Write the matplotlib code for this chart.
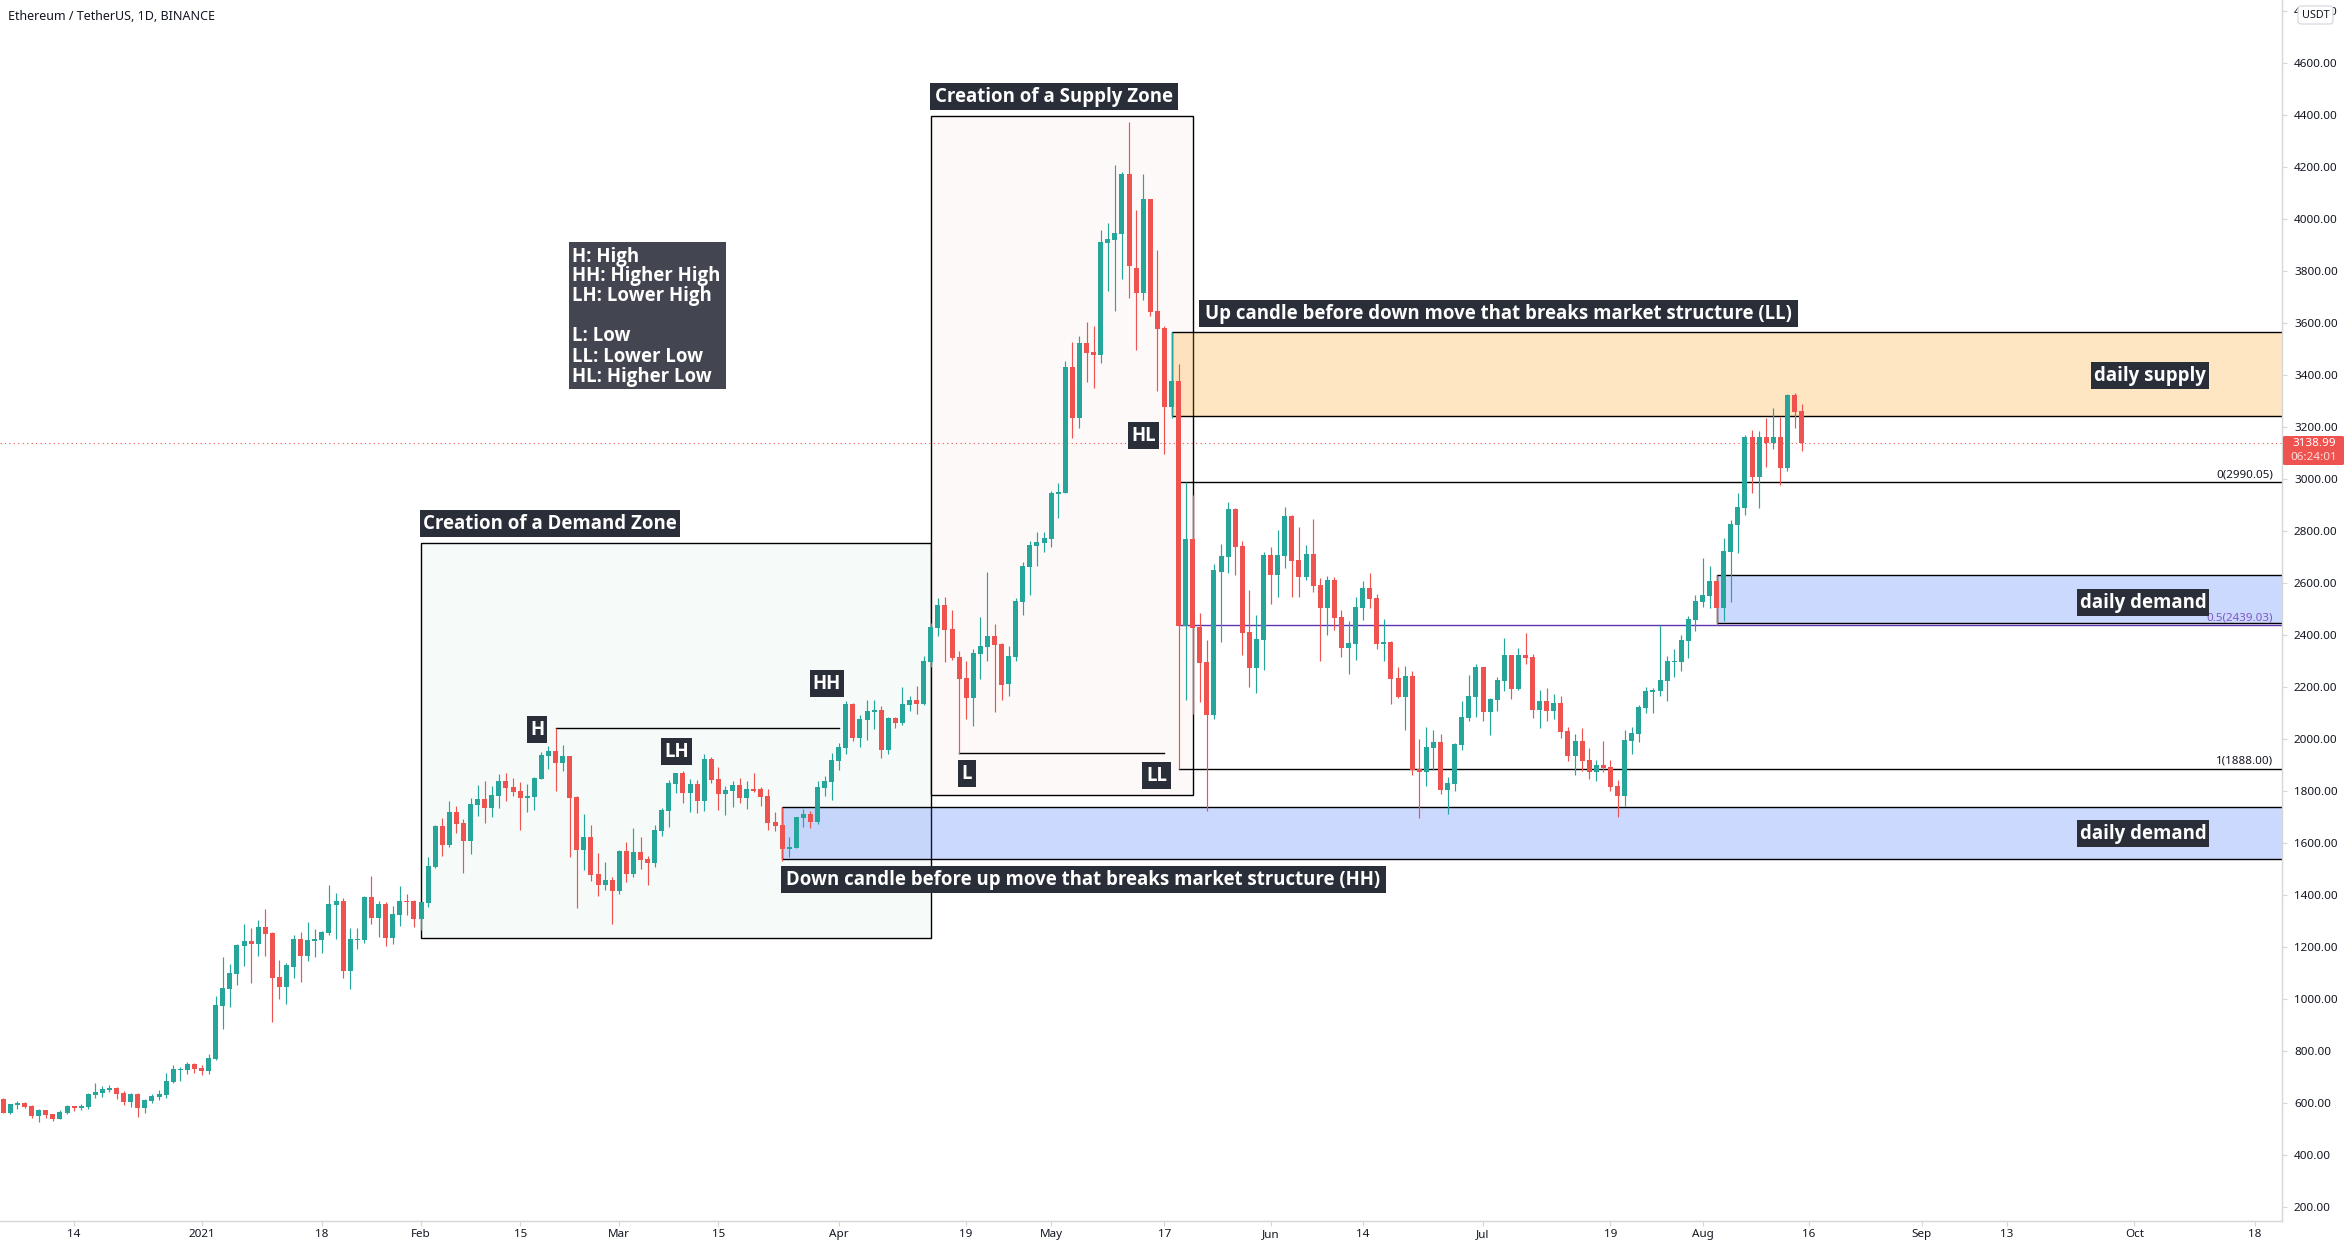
import matplotlib
matplotlib.use('Agg')
import matplotlib.pyplot as plt
from matplotlib.patches import Rectangle, FancyBboxPatch
from matplotlib.transforms import Affine2D

W, H = 2350, 1248

opens = [
    617, 563, 594, 602, 590, 552, 575, 560, 540, 563,
    590, 583, 587, 633, 640, 652, 660, 640, 606, 637,
    583, 610, 625, 633, 683, 729, 729, 752, 737, 725,
    771, 975, 1040, 1098, 1206, 1225, 1213, 1279, 1256, 1087,
    1048, 1125, 1233, 1167, 1225, 1229, 1256, 1363, 1379, 1110,
    1229, 1229, 1394, 1313, 1367, 1237, 1325, 1379, 1379, 1310,
    1371, 1510, 1667, 1594, 1721, 1679, 1610, 1748, 1771, 1737,
    1783, 1840, 1817, 1802, 1775, 1779, 1848, 1937, 1956, 1910,
    1937, 1779, 1575, 1625, 1483, 1440, 1460, 1417, 1571, 1483,
    1567, 1540, 1525, 1648, 1725, 1829, 1871, 1794, 1829, 1763,
    1925, 1848, 1790, 1802, 1825, 1775, 1810, 1810, 1783, 1683,
    1671, 1579, 1583, 1698, 1714, 1683, 1813, 1837, 1917, 1967,
    2137, 2006, 2075, 2106, 2113, 1960, 2083, 2063, 2133, 2152,
    2137, 2298, 2429, 2517, 2425, 2317, 2237, 2160, 2329, 2356,
    2398, 2367, 2213, 2317, 2529, 2663, 2744, 2756, 2771, 2944,
    2948, 3433, 3237, 3525, 3490, 3479, 3910, 3921, 3944, 4175,
    3813, 3717, 4079, 3648, 3583, 3279, 3379, 2436, 2771, 2433,
    2298, 2094, 2644, 2702, 2886, 2744, 2414, 2275, 2383, 2710,
    2633, 2706, 2860, 2690, 2625, 2714, 2594, 2506, 2614, 2471,
    2352, 2367, 2506, 2583, 2544, 2367, 2375, 2237, 2164, 2244,
    1887, 1875, 1967, 1990, 1806, 1829, 1979, 2083, 2164, 2279,
    2106, 2152, 2225, 2325, 2194, 2325, 2317, 2113, 2148, 2110,
    2140, 2033, 1937, 1994, 1921, 1875, 1902, 1894, 1821, 1783,
    1994, 2021, 2121, 2183, 2187, 2225, 2298, 2298, 2379, 2460,
    2529, 2552, 2610, 2506, 2721, 2825, 2890, 3163, 3010, 3163,
    3139, 3163, 3044, 3325, 3263,
]
closes = [
    563, 598, 602, 587, 552, 575, 556, 540, 567, 590,
    583, 590, 637, 644, 656, 660, 637, 606, 637, 583,
    613, 629, 637, 687, 733, 733, 752, 733, 725, 775,
    979, 1044, 1102, 1210, 1225, 1213, 1279, 1252, 1083, 1048,
    1133, 1233, 1167, 1229, 1233, 1260, 1367, 1379, 1110, 1233,
    1233, 1394, 1313, 1367, 1237, 1329, 1379, 1375, 1310, 1375,
    1513, 1667, 1594, 1721, 1675, 1610, 1752, 1771, 1737, 1787,
    1840, 1813, 1798, 1775, 1783, 1852, 1940, 1956, 1910, 1937,
    1775, 1575, 1625, 1479, 1440, 1460, 1417, 1571, 1483, 1567,
    1537, 1525, 1652, 1729, 1833, 1871, 1794, 1829, 1763, 1925,
    1844, 1790, 1806, 1825, 1775, 1810, 1802, 1779, 1679, 1667,
    1579, 1587, 1702, 1714, 1683, 1817, 1840, 1921, 1971, 2137,
    2006, 2079, 2110, 2113, 1960, 2083, 2063, 2137, 2152, 2137,
    2302, 2433, 2517, 2421, 2313, 2233, 2160, 2333, 2360, 2398,
    2363, 2210, 2321, 2533, 2667, 2748, 2760, 2775, 2948, 2952,
    3433, 3237, 3525, 3487, 3479, 3913, 3925, 3948, 4175, 3821,
    3717, 4079, 3644, 3579, 3279, 3379, 2436, 2771, 2429, 2294,
    2094, 2652, 2706, 2886, 2740, 2410, 2275, 2387, 2710, 2633,
    2710, 2860, 2687, 2625, 2714, 2590, 2506, 2614, 2467, 2352,
    2371, 2510, 2583, 2540, 2367, 2375, 2233, 2164, 2244, 1883,
    1875, 1971, 1990, 1806, 1833, 1983, 2087, 2167, 2279, 2106,
    2156, 2229, 2325, 2194, 2325, 2313, 2113, 2148, 2110, 2140,
    2029, 1937, 1994, 1917, 1875, 1902, 1890, 1817, 1783, 1998,
    2025, 2125, 2187, 2190, 2229, 2302, 2302, 2383, 2463, 2533,
    2556, 2610, 2506, 2725, 2829, 2894, 3163, 3010, 3163, 3139,
    3163, 3044, 3325, 3260, 3139,
]
highs = [
    621, 598, 610, 606, 594, 579, 575, 560, 575, 594,
    590, 598, 640, 679, 667, 671, 663, 648, 640, 640,
    617, 637, 652, 717, 748, 740, 760, 756, 748, 790,
    1013, 1163, 1137, 1213, 1290, 1275, 1306, 1348, 1260, 1152,
    1140, 1248, 1260, 1298, 1271, 1263, 1440, 1410, 1390, 1275,
    1275, 1398, 1475, 1379, 1375, 1360, 1437, 1406, 1383, 1375,
    1548, 1671, 1698, 1763, 1744, 1694, 1775, 1825, 1840, 1821,
    1867, 1871, 1852, 1837, 1829, 1856, 1952, 1975, 2044, 1979,
    1937, 1783, 1714, 1671, 1563, 1529, 1471, 1575, 1606, 1660,
    1625, 1552, 1671, 1737, 1844, 1871, 1879, 1848, 1844, 1944,
    1933, 1894, 1821, 1840, 1852, 1840, 1871, 1817, 1810, 1721,
    1740, 1625, 1702, 1733, 1725, 1840, 1860, 1948, 1987, 2148,
    2140, 2094, 2152, 2152, 2129, 2087, 2087, 2202, 2167, 2206,
    2321, 2448, 2544, 2548, 2498, 2340, 2302, 2348, 2471, 2644,
    2444, 2371, 2360, 2544, 2683, 2763, 2798, 2798, 2956, 2986,
    3456, 3529, 3552, 3606, 3590, 3960, 3986, 4210, 4183, 4375,
    4036, 4175, 4079, 3883, 3590, 3567, 3444, 2990, 2940, 2486,
    2383, 2675, 2752, 2913, 2890, 2763, 2575, 2479, 2721, 2740,
    2806, 2894, 2864, 2817, 2748, 2848, 2621, 2629, 2625, 2498,
    2456, 2548, 2610, 2640, 2560, 2463, 2379, 2279, 2283, 2264,
    2000, 2048, 2037, 2021, 1856, 1987, 2148, 2248, 2290, 2279,
    2160, 2240, 2391, 2325, 2352, 2410, 2329, 2190, 2198, 2175,
    2167, 2048, 2021, 2044, 1967, 1921, 1994, 1921, 1844, 2037,
    2048, 2133, 2202, 2198, 2440, 2321, 2348, 2402, 2475, 2556,
    2698, 2667, 2633, 2775, 2844, 2948, 3171, 3190, 3186, 3236,
    3275, 3240, 3329, 3333, 3290,
]
lows = [
    563, 560, 579, 583, 544, 529, 544, 533, 540, 560,
    571, 575, 579, 621, 625, 644, 617, 594, 587, 548,
    563, 602, 613, 621, 679, 687, 713, 717, 710, 713,
    767, 887, 971, 1056, 1129, 1064, 1167, 1167, 913, 1002,
    983, 1083, 1067, 1148, 1163, 1179, 1248, 1233, 1083, 1040,
    1194, 1217, 1290, 1240, 1206, 1213, 1283, 1325, 1279, 1267,
    1356, 1506, 1552, 1587, 1640, 1487, 1560, 1706, 1679, 1702,
    1737, 1763, 1783, 1652, 1721, 1729, 1848, 1887, 1802, 1879,
    1548, 1352, 1498, 1456, 1398, 1421, 1290, 1406, 1452, 1471,
    1502, 1440, 1510, 1629, 1663, 1794, 1756, 1721, 1717, 1725,
    1833, 1729, 1710, 1740, 1756, 1733, 1798, 1744, 1652, 1648,
    1533, 1548, 1583, 1663, 1660, 1675, 1783, 1767, 1883, 1944,
    1994, 1971, 1998, 2040, 1929, 1944, 2044, 2056, 2110, 2098,
    2133, 2279, 2398, 2298, 2306, 1944, 2079, 2052, 2233, 2302,
    2106, 2152, 2167, 2302, 2479, 2556, 2667, 2721, 2740, 2852,
    2948, 3160, 3198, 3375, 3352, 3448, 3725, 3648, 3771, 3698,
    3498, 3690, 3629, 3340, 3098, 3237, 1888, 2152, 2098, 2144,
    1725, 2079, 2375, 2640, 2633, 2325, 2202, 2179, 2267, 2521,
    2548, 2660, 2548, 2548, 2614, 2567, 2302, 2402, 2421, 2317,
    2252, 2306, 2460, 2506, 2348, 2302, 2137, 2160, 2037, 1864,
    1698, 1821, 1883, 1790, 1714, 1802, 1960, 2071, 2087, 2071,
    2017, 2110, 2187, 2156, 2190, 2290, 2083, 2044, 2071, 2079,
    2006, 1917, 1863, 1879, 1848, 1840, 1875, 1802, 1702, 1744,
    1944, 1990, 2102, 2102, 2167, 2148, 2240, 2263, 2313, 2417,
    2510, 2506, 2440, 2456, 2529, 2717, 2863, 2948, 2890, 3048,
    3117, 2979, 3033, 3198, 3110,
]

price_ticks = list(range(200, 4801, 200))
# candle number of each date label, first candle is 4 Dec 2020
time_ticks = [10, 28, 45, 59, 73, 87, 101, 118, 136, 148, 164, 179, 192, 209, 227, 240, 255, 271, 283, 301, 318]
time_labels = ['14', '2021', '18', 'Feb', '15', 'Mar', '15', 'Apr', '19', 'May', '17', 'Jun', '14', 'Jul', '19', 'Aug', '16', 'Sep', '13', 'Oct', '18']

last_price = 3138.99
fib_levels = [2990.05, 2439.03, 1888.00]
fib_labels = ['0(2990.05)', '0.5(2439.03)', '1(1888.00)']

UP = '#26a69a'
DOWN = '#ef5350'
AXIS = '#d6d6d6'
TEXT = '#131722'
DARK = '#2a2e39'
FONT = ['Noto Sans', 'DejaVu Sans']
LABEL_FONT = ['Open Sans', 'DejaVu Sans']
EDGE = 1.0
LABEL_SIZE = 13.4

fig = plt.figure(figsize=(W / 100, H / 100), dpi=100, facecolor='white')
ax = fig.add_axes([0, (H - 1221) / H, 2282 / W, 1221 / H])
ax.set_xlim(-0.466, 321.85)
ax.set_ylim(148, 4844)

# boxes and zones, under the candles
ax.add_patch(Rectangle((59, 1237), 131 - 59, 2755 - 1237, fc='#f6fbf9', ec='black', lw=EDGE, zorder=1))
ax.add_patch(Rectangle((131, 1785), 168 - 131, 4397 - 1785, fc='#fef9f9', ec='black', lw=EDGE, zorder=1))
ax.add_patch(Rectangle((165, 3243), 170, 3566 - 3243, fc=(1.0, 0.6, 0.0, 0.24), ec='black', lw=EDGE, zorder=2))
ax.add_patch(Rectangle((242, 2447), 90, 2632 - 2447, fc=(0.16, 0.38, 1.0, 0.24), ec='black', lw=EDGE, zorder=2))
ax.add_patch(Rectangle((110, 1540), 230, 1740 - 1540, fc=(0.16, 0.38, 1.0, 0.24), ec='black', lw=EDGE, zorder=2))

ax.plot([78, 118], [2043, 2043], color='black', lw=EDGE, zorder=2)
ax.plot([135, 164], [1947, 1947], color='black', lw=EDGE, zorder=2)
ax.plot([166, 322], [fib_levels[0]] * 2, color='black', lw=EDGE, zorder=2)
ax.plot([166, 322], [fib_levels[1]] * 2, color='#5e35b1', lw=EDGE, zorder=2)
ax.plot([166, 322], [fib_levels[2]] * 2, color='black', lw=EDGE, zorder=2)
ax.axhline(last_price, color=DOWN, lw=0.8, ls=(0, (1, 3)), zorder=2)

# candles
idx = list(range(len(opens)))
colors = [UP if c >= o else DOWN for o, c in zip(opens, closes)]
ax.vlines(idx, lows, highs, colors=colors, lw=0.85, zorder=3)
ax.bar(idx, [abs(c - o) for o, c in zip(opens, closes)], bottom=[min(o, c) for o, c in zip(opens, closes)],
       width=5 / 7.08, color=colors, lw=0, zorder=4)

for spine in ['top', 'left']:
    ax.spines[spine].set_visible(False)
for spine in ['right', 'bottom']:
    ax.spines[spine].set_color(AXIS)
    ax.spines[spine].set_linewidth(1.0)
ax.yaxis.tick_right()
ax.set_yticks(price_ticks)
ax.set_yticklabels(['%.2f' % p for p in price_ticks], fontsize=8.4, color=TEXT, family=FONT)
ax.set_xticks(time_ticks)
ax.set_xticklabels(time_labels, fontsize=8.4, color=TEXT, family=FONT)
ax.get_xticklabels()[1].set_fontweight('bold')
ax.tick_params(axis='y', length=3.6, width=0.8, color=AXIS, pad=5)
ax.tick_params(axis='x', length=3.6, width=0.8, color=AXIS, pad=2.5)

# fib level captions
for lvl, txt, col in zip(fib_levels, fib_labels, ['#131722', '#7e57c2', '#131722']):
    ax.annotate(txt, (321.85, lvl), xytext=(-6.5, 1.3), textcoords='offset points', ha='right', va='bottom',
                fontsize=8.3, color=col, family=FONT, zorder=5)

# everything below is placed in image pixels, y going down
px = Affine2D().scale(1, -1).translate(0, H)


def label(x0, y0, x1, y1, text, size=LABEL_SIZE, bg=DARK):
    fig.add_artist(Rectangle((x0, y0), x1 - x0, y1 - y0, fc=bg, ec='none', transform=px, zorder=6))
    fig.text((x0 + x1) / 2, (y0 + y1) / 2 + 0.5, text, transform=px, ha='center', va='center', color='white',
             fontsize=size, fontweight='bold', family=LABEL_FONT, zorder=7)


label(930, 83, 1178, 110, 'Creation of a Supply Zone')
label(420, 510, 680, 537, 'Creation of a Demand Zone')
label(1199, 300, 1798, 327, 'Up candle before down move that breaks market structure (LL)')
label(781, 866, 1386, 893, 'Down candle before up move that breaks market structure (HH)')
label(527, 716, 547, 743, 'H')
label(810, 670, 844, 697, 'HH')
label(661, 738, 692, 765, 'LH')
label(1128, 422, 1159, 449, 'HL')
label(958, 760, 976, 787, 'L')
label(1142, 762, 1171, 789, 'LL')
label(2091, 362, 2209, 389, 'daily supply')
label(2077, 589, 2209, 616, 'daily demand')
label(2077, 820, 2209, 847, 'daily demand')

fig.add_artist(Rectangle((569, 242), 157, 147, fc='#434651', ec='none', transform=px, zorder=6))
for y, txt in zip([257, 276, 296, 336, 357, 377],
                  ['H: High', 'HH: Higher High', 'LH: Lower High', 'L: Low', 'LL: Lower Low', 'HL: Higher Low']):
    fig.text(572, y, txt, transform=px, ha='left', va='center', color='white', fontsize=LABEL_SIZE, fontweight='bold',
             family=LABEL_FONT, zorder=7)

fig.text(8, 17, 'Ethereum / TetherUS, 1D, BINANCE', transform=px, ha='left', va='center', color=TEXT,
         fontsize=9.0, fontweight='bold', family=FONT, zorder=7)

# last price tag and currency tag on the price scale
fig.add_artist(FancyBboxPatch((2283, 436), 61, 29, boxstyle='round,pad=0,rounding_size=1.5', fc=DOWN, ec='none',
                              transform=px, zorder=6))
fig.text(2314, 443.5, '3138.99', transform=px, ha='center', va='center', color='white', fontsize=8.4,
         fontweight='bold', family=FONT, zorder=7)
fig.text(2314, 457.5, '06:24:01', transform=px, ha='center', va='center', color='#fbdcdb', fontsize=8.4,
         family=FONT, zorder=7)
fig.add_artist(FancyBboxPatch((2298, 6), 35, 18, boxstyle='round,pad=0,rounding_size=3', fc='white', ec='#d1d4dc',
                              lw=0.8, transform=px, zorder=6))
fig.text(2315.5, 15, 'USDT', transform=px, ha='center', va='center', color=TEXT, fontsize=7.8, family=FONT, zorder=7)

fig.savefig('out.png', dpi=100)
